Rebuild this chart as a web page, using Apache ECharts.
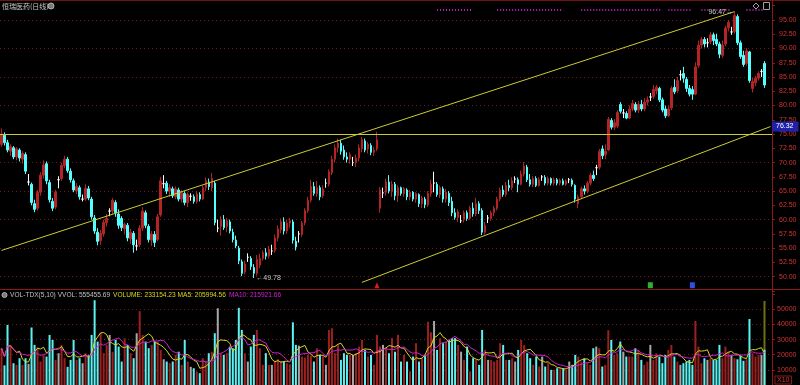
<!DOCTYPE html>
<html><head><meta charset="utf-8">
<script src="https://cdn.jsdelivr.net/npm/echarts@6/dist/echarts.min.js"></script>
<style>html,body{margin:0;padding:0;background:#000;}#c{width:800px;height:385px;}</style>
</head><body><div id="c"></div>
<script>
// ---------------- data ----------------
const CAT_COUNT = 257;                 // trading-day slots on the x axis (2 empty slots at right)
const categories = [];
for (let i = 0; i < CAT_COUNT; i++) categories.push(String(i));

// daily candles: [open, close, low, high]
const candles = [
[73.2,75.0,72.8,76.0],[74.8,73.5,73.0,75.3],[73.5,72.2,71.8,74.0],[72.0,72.8,71.2,73.2],[72.6,71.0,70.6,72.9],
[71.0,72.4,70.4,72.7],[72.2,70.8,70.2,72.5],[70.6,71.6,69.8,72.0],[71.4,68.5,68.0,71.8],[66.6,66.6,66.0,68.0],
[66.2,63.0,62.5,66.5],[62.8,61.8,61.3,63.5],[62.0,64.8,61.6,65.2],[64.8,67.8,64.2,68.3],[67.8,69.6,67.2,70.4],
[69.8,66.8,66.2,70.2],[66.5,63.5,63.0,67.0],[63.2,62.0,61.5,63.8],[62.2,64.8,61.8,65.2],[67.0,67.0,65.5,67.6],
[67.2,69.5,66.8,70.0],[69.5,70.6,69.0,71.2],[70.6,68.6,68.2,71.0],[68.5,67.0,66.5,69.0],[66.8,65.2,64.8,67.2],
[65.0,65.8,64.5,66.4],[65.6,64.0,63.5,66.0],[63.6,63.6,63.2,64.4],[63.6,65.5,63.3,66.2],[65.4,63.8,63.4,65.9],
[63.6,60.5,60.0,64.0],[60.3,58.0,57.5,60.8],[57.8,56.2,55.5,58.5],[56.3,57.6,55.6,58.2],[57.5,59.5,57.0,60.0],
[59.5,60.2,58.8,61.0],[61.5,61.5,60.6,62.0],[61.5,63.4,61.0,63.8],[63.0,61.2,60.5,63.4],[61.0,59.0,58.4,61.8],
[60.2,58.6,58.0,60.6],[58.4,59.2,57.4,59.5],[59.0,56.8,56.2,59.4],[56.6,57.8,55.8,58.4],[57.6,55.6,54.2,58.0],
[55.4,55.4,54.6,56.5],[55.6,58.5,55.2,59.0],[58.5,61.5,58.0,62.2],[61.2,59.0,58.5,61.6],[58.8,56.5,56.0,59.2],
[56.4,57.5,55.4,58.0],[57.4,56.0,55.2,58.0],[56.5,60.5,56.2,61.0],[60.8,66.8,60.5,67.5],[66.3,66.3,65.5,67.8],
[66.4,65.0,64.5,66.8],[65.0,65.6,64.0,66.2],[65.4,64.2,63.8,65.8],[64.0,65.4,63.6,65.8],[65.2,63.6,63.2,65.6],
[63.6,64.8,63.0,65.2],[64.6,63.0,62.5,65.0],[63.0,64.4,62.2,64.8],[64.1,64.1,63.3,64.6],[64.0,63.2,62.8,64.4],
[63.2,64.5,62.8,65.0],[64.4,63.6,63.2,64.8],[63.6,65.6,63.4,66.0],[65.6,66.8,65.0,67.4],[66.6,65.8,65.2,67.2],
[65.6,67.2,65.0,68.2],[66.4,59.5,59.0,66.8],[58.5,58.5,57.8,60.0],[58.8,60.0,57.2,60.6],[60.0,58.6,58.2,60.8],
[58.8,59.8,57.8,60.3],[59.6,58.0,57.6,60.0],[57.8,56.5,56.0,58.4],[56.4,55.4,55.0,57.2],[55.0,52.8,52.2,55.4],
[52.6,50.6,50.1,53.0],[50.8,52.2,50.4,52.8],[53.4,53.4,52.6,54.1],[53.2,51.8,51.2,53.6],[51.6,50.6,49.78,52.2],
[50.6,53.0,50.2,53.8],[52.0,53.2,51.5,54.0],[53.2,54.2,52.8,54.6],[54.2,53.6,53.0,55.0],[53.6,54.8,53.2,55.4],
[54.5,54.5,53.8,55.6],[54.6,56.8,54.2,57.4],[56.8,58.4,56.2,59.0],[58.2,59.6,57.6,60.2],[59.6,58.0,57.4,60.4],
[58.0,59.4,57.5,60.0],[59.4,59.8,58.6,60.3],[59.6,56.4,55.8,60.0],[56.2,55.2,54.6,57.0],[57.5,57.5,56.0,58.0],
[57.4,59.4,57.0,59.8],[59.4,61.6,59.0,62.0],[61.6,63.4,61.2,64.0],[63.4,65.8,63.0,67.0],[65.8,64.6,64.2,66.6],
[64.6,65.6,64.0,66.8],[65.6,64.0,63.4,66.0],[64.2,65.4,63.8,66.0],[66.4,66.4,65.6,67.2],[66.2,68.4,65.8,68.8],
[68.2,70.6,67.8,71.2],[70.6,72.6,70.0,73.2],[72.6,73.4,71.8,74.2],[73.4,72.0,71.4,74.0],[72.2,71.0,70.5,73.0],
[71.0,70.6,70.0,71.8],[70.6,71.4,69.8,71.8],[70.0,70.0,69.4,71.0],[70.0,70.8,69.2,71.4],[70.8,72.6,70.2,73.2],
[72.4,74.0,71.8,74.5],[73.8,72.2,71.8,74.2],[72.4,73.2,71.6,73.6],[73.0,71.8,71.3,73.4],[71.8,72.2,71.2,72.8],
[72.4,74.0,72.0,75.4],[62.0,65.2,61.2,65.7],[64.7,64.7,63.8,65.6],[64.8,66.6,64.2,67.2],[66.6,65.0,64.6,67.8],
[65.0,66.2,64.0,66.8],[66.2,64.2,63.4,66.6],[64.2,65.6,63.1,66.0],[65.6,64.6,64.2,65.8],[64.6,65.4,64.0,65.7],
[65.2,64.0,63.4,65.5],[64.0,64.8,63.4,65.2],[64.8,63.6,63.2,65.0],[63.6,64.6,63.0,64.8],[64.4,62.8,62.2,64.6],
[62.8,63.8,62.0,64.2],[63.6,62.6,62.0,64.0],[62.6,64.6,62.2,65.0],[64.6,66.2,64.0,67.0],[66.4,66.4,64.8,68.4],
[66.2,64.4,64.0,66.6],[64.4,65.6,63.8,66.0],[65.4,63.6,63.0,65.8],[63.6,64.8,63.0,65.4],[64.6,63.0,62.4,65.0],
[63.2,61.2,60.6,64.0],[61.2,60.4,60.0,62.0],[60.4,61.4,59.6,61.8],[59.8,59.8,59.4,60.8],[60.0,61.2,59.5,61.6],
[61.2,60.2,59.8,61.6],[60.2,62.0,60.0,62.4],[62.0,61.0,60.5,63.0],[61.0,62.8,60.6,63.8],[62.8,61.6,61.0,63.2],
[61.6,57.8,57.3,62.0],[57.8,59.0,57.4,59.6],[60.3,60.3,59.4,60.8],[60.2,61.2,59.8,61.6],[61.2,62.0,60.6,62.4],
[62.0,63.6,61.6,64.0],[63.6,65.2,63.2,65.6],[65.2,64.4,64.0,66.0],[64.4,66.0,64.0,66.6],[66.0,65.6,65.0,67.0],
[65.6,66.8,65.2,67.4],[67.1,67.1,66.4,67.6],[67.0,66.2,64.8,67.4],[66.2,68.0,66.0,68.6],[68.0,69.4,67.6,70.1],
[69.2,67.0,66.6,69.6],[67.0,66.2,65.8,68.0],[66.2,67.2,65.7,67.6],[67.2,66.0,65.7,67.6],[66.0,67.0,65.8,67.4],
[67.5,67.5,66.8,67.8],[67.4,66.4,66.0,67.8],[66.4,67.2,66.0,67.6],[67.2,66.4,66.0,67.4],[66.4,67.0,66.0,67.4],
[67.0,66.4,66.0,67.3],[66.4,66.9,66.0,67.2],[66.8,66.2,66.0,67.2],[66.2,66.8,65.9,67.1],[67.0,67.0,66.4,67.3],
[66.9,66.2,65.8,67.2],[66.0,63.6,63.0,66.2],[62.8,64.0,62.0,64.4],[64.0,65.4,63.6,65.8],[65.4,65.0,64.4,66.0],
[65.0,66.4,64.6,66.8],[66.4,67.8,66.0,68.2],[67.8,67.2,66.8,68.6],[69.1,69.1,67.8,69.6],[69.2,72.0,68.8,72.4],
[72.4,71.2,70.6,73.0],[71.4,72.0,70.6,73.2],[72.2,77.6,72.0,78.0],[77.4,76.2,75.8,77.8],[76.2,77.0,75.7,77.6],
[76.4,78.8,76.0,79.2],[80.2,79.0,78.6,80.6],[78.7,78.7,77.8,79.4],[78.6,77.8,77.6,79.0],[77.8,79.4,77.6,80.0],
[79.4,80.4,79.0,81.0],[80.2,79.2,78.8,80.6],[79.2,80.2,78.7,80.8],[80.2,79.4,79.0,81.0],[79.4,80.6,79.0,81.3],
[80.6,81.0,80.0,81.6],[81.5,81.5,80.8,82.2],[81.6,82.8,81.2,83.6],[82.6,83.2,82.0,83.6],[83.0,81.0,80.6,83.3],
[81.0,79.2,78.8,81.4],[79.4,78.2,77.8,80.0],[78.2,79.4,78.0,80.0],[79.6,83.0,79.2,83.4],[83.2,82.4,82.0,84.6],
[82.6,84.4,82.2,85.0],[85.4,85.4,84.4,86.2],[85.6,84.8,84.0,86.8],[84.6,83.0,82.4,85.0],[83.0,82.0,81.6,83.6],
[82.8,82.0,81.0,83.4],[82.0,86.8,81.8,87.6],[87.0,90.6,86.6,91.4],[90.6,91.6,90.0,92.0],[91.6,90.8,90.2,92.0],
[91.0,91.0,90.2,91.8],[91.2,92.4,90.8,92.9],[92.4,91.4,90.6,92.8],[91.6,90.8,90.4,92.6],[90.8,89.0,88.3,91.2],
[88.8,90.6,88.4,91.4],[90.8,93.6,90.4,94.0],[93.6,94.6,93.0,95.0],[92.9,92.9,92.4,93.8],[93.0,95.8,92.6,96.47],
[95.6,91.0,90.6,96.0],[91.0,88.6,88.2,91.4],[88.8,87.2,86.8,89.6],[87.4,89.6,87.0,90.1],[89.4,84.4,84.0,89.6],
[83.0,84.2,82.3,84.8],[84.0,84.8,83.4,85.2],[84.8,85.6,84.4,86.0],[86.0,86.0,85.0,86.4],[87.4,83.6,83.1,87.8]
];

// daily volume (axis units, x10 lots)
const volumes = [
24300,13000,39700,26500,14400,13300,17700,13300,17700,14000,
38000,26500,25000,15500,19900,18800,33100,29800,16600,21000,
26500,17700,12000,16600,29800,16600,17700,14400,21000,19900,
33100,56000,28700,34500,21000,26500,33100,22000,29800,25400,
15500,30900,26500,21000,17700,34200,48800,33100,28700,24300,
26500,28700,28700,23200,17000,15500,14400,15500,19900,22000,
13300,29800,15500,12000,11100,8900,7800,17700,15500,21000,
22000,34200,50700,21000,19900,21000,25400,24300,29800,51000,
36400,21000,15500,25400,33100,36400,24300,13300,21000,13300,
13300,16000,17000,15800,15500,14400,13600,41400,26500,26000,
18800,18200,19900,19300,15500,24300,19900,18800,13300,36400,
37500,21000,26500,16600,21000,20000,19900,19900,21000,25400,
29800,23200,18800,19900,13300,33100,25400,26500,24300,21000,
31000,22000,33100,15500,19900,15500,9000,18800,27600,15500,
17700,19900,41800,34800,42300,23200,30900,27600,28700,29800,
31000,31000,26500,22000,16600,25400,9000,17700,16600,13300,
36400,23200,16600,16600,15500,16600,27600,26500,16600,16600,
17700,15500,23200,29800,26500,21000,17700,13300,18800,12200,
18800,12200,14400,10000,10000,11100,11100,11100,10000,15500,
13300,19900,18800,15500,17700,14400,13300,24300,25400,24300,
12200,13300,36200,29800,19900,21000,28700,22000,18800,18800,
18800,24300,23200,16600,13300,15500,26500,16600,21000,18800,
14400,19900,23200,26500,18800,15500,13300,14400,15500,16600,
13300,42300,25400,14400,17700,16600,17700,16600,16600,26500,
17700,25400,22000,19900,17700,17000,19400,16000,17000,43600,
21000,18800,19900,19900,23315.4
];
const virtualVolume = 55545.6;      // VVOL of the last day (x10)

// reference lines / annotations
const priceGridValues = [50, 55, 60, 65, 70, 80, 85, 90, 95];
const volGridValues = [10000, 20000, 30000, 40000, 50000];
const horizontalLevel = 75.0;
const upperChannel = [[0, 54.6], [244, 96.47]];
const lowerChannel = [[120, 49.0], [256, 76.32]];
const channelNow = 76.32;
const lowPoint = [84, 49.78];
const highPoint = [244, 96.47];
const signalRuns = [[145,157],[165,187],[193,220],[222,230],[233,236],[238,243],[248,254]];
const signalLevel = 96.8;
const bottomMarks = [[125, '#d02020', 'triangle'], [216, '#30b030', 'rect'], [230, '#3050e0', 'rect']];
const bottomMarkLevel = 48.5;

const headerTexts = {
  vol: 'VOL-TDX(5,10) VVOL: 555455.69',
  volume: 'VOLUME: 233154.23 MA5: 205994.56',
  ma10: 'MA10: 215921.66'
};

// ---------------- styles ----------------
const UP = '#b42424', DOWN = '#54ffff', DOJI = '#ffffff';
const VUP = '#9c2020', VDOWN = '#5cf2f2', VFLAT = '#a8a8a8';
const AXIS_RED = '#8b1a1a', LABEL_RED = '#d23434', GRID_RED = '#7a1616';
const YEL = '#cccc33';

const candleData = candles.map(r => r[0] === r[1]
  ? { value: r, itemStyle: { color: DOJI, color0: DOJI, borderColor: DOJI, borderColor0: DOJI } }
  : r);
const volData = volumes.map((v, i) => {
  const c = candles[i];
  const col = c[1] > c[0] ? VUP : (c[1] < c[0] ? VDOWN : VFLAT);
  return { value: v, itemStyle: { color: col } };
});
function ma(n) {
  return volumes.map((v, i) => {
    const s = Math.max(0, i - n + 1);
    let sum = 0;
    for (let k = s; k <= i; k++) sum += volumes[k];
    return +(sum / (i - s + 1)).toFixed(1);
  });
}
const vvolData = volumes.map((v, i) => i === volumes.length - 1 ? virtualVolume : '-');

const dotted = { type: [1, 3], color: GRID_RED, width: 1 };

const chart = echarts.init(document.getElementById('c'), null, { renderer: 'canvas' });
chart.setOption({
  backgroundColor: '#000',
  animation: false,
  grid: [
    { left: 0, right: 28, top: 5.74, height: 285.2 },
    { left: 0, right: 28, top: 294.2, height: 91 }
  ],
  xAxis: [
    { type: 'category', gridIndex: 0, data: categories, boundaryGap: true,
      axisLine: { show: false }, axisTick: { show: false }, axisLabel: { show: false }, splitLine: { show: false } },
    { type: 'category', gridIndex: 1, data: categories, boundaryGap: true,
      axisLine: { show: false }, axisTick: { show: false }, axisLabel: { show: false }, splitLine: { show: false } }
  ],
  yAxis: [
    { type: 'value', gridIndex: 0, position: 'right', min: 47.5, max: 97.5, interval: 2.5,
      axisLine: { show: true, lineStyle: { color: AXIS_RED } },
      axisTick: { show: true, length: 3, lineStyle: { color: AXIS_RED } },
      axisLabel: { color: LABEL_RED, fontSize: 7, fontFamily: 'Liberation Sans', margin: 7,
        formatter: v => (v >= 50 && v <= 95) ? v.toFixed(2) : '' },
      splitLine: { show: false } },
    { type: 'value', gridIndex: 1, position: 'right', min: 0, max: 60000, interval: 10000,
      axisLine: { show: true, lineStyle: { color: AXIS_RED } },
      axisTick: { show: true, length: 3, lineStyle: { color: AXIS_RED } },
      axisLabel: { color: LABEL_RED, fontSize: 7, fontFamily: 'Liberation Sans', margin: 5,
        formatter: v => (v >= 10000 && v <= 50000) ? String(v) : '' },
      splitLine: { show: false } }
  ],
  series: [
    { // price grid lines
      type: 'line', xAxisIndex: 0, yAxisIndex: 0, data: [], silent: true,
      markLine: { silent: true, symbol: ['none', 'none'], z: 1, label: { show: false },
        lineStyle: dotted, data: priceGridValues.map(v => ({ yAxis: v })) }
    },
    { // volume grid lines
      type: 'line', xAxisIndex: 1, yAxisIndex: 1, data: [], silent: true,
      markLine: { silent: true, symbol: ['none', 'none'], z: 1, label: { show: false },
        lineStyle: dotted, data: volGridValues.map(v => ({ yAxis: v })) }
    },
    {
      type: 'candlestick', name: 'K', xAxisIndex: 0, yAxisIndex: 0, barWidth: 2,
      data: candleData,
      itemStyle: { color: UP, color0: DOWN, borderColor: UP, borderColor0: DOWN, borderWidth: 1 },
      markLine: {
        silent: true, symbol: ['none', 'none'], label: { show: false },
        lineStyle: { color: YEL, width: 1, type: 'solid' },
        data: [
          { yAxis: horizontalLevel },
          [{ coord: upperChannel[0] }, { coord: upperChannel[1] }],
          [{ coord: lowerChannel[0] }, { coord: lowerChannel[1] }],
          { yAxis: channelNow, lineStyle: { color: 'rgba(0,0,0,0)' },
            label: { show: true, position: 'end', distance: 0, formatter: channelNow.toFixed(2),
              backgroundColor: '#2020a8', color: '#ffffff', fontSize: 7, fontFamily: 'Liberation Sans',
              padding: [2, 5, 1, 4] } }
        ]
      },
      markPoint: {
        silent: true, symbol: 'circle', symbolSize: 1, itemStyle: { color: 'rgba(0,0,0,0)' },
        data: [
          { coord: lowPoint, label: { show: true, position: 'right', distance: 2, formatter: '←' + lowPoint[1].toFixed(2),
              color: '#c8c8c8', fontSize: 7, fontFamily: 'Liberation Sans' } },
          { coord: highPoint, label: { show: true, position: 'left', distance: 1, formatter: highPoint[1].toFixed(2) + '→',
              color: '#c8c8c8', fontSize: 7, fontFamily: 'Liberation Sans' } }
        ].concat(bottomMarks.map(m => ({ coord: [m[0], bottomMarkLevel], symbol: m[2], symbolSize: [5, 6],
              itemStyle: { color: m[1] }, label: { show: false } })))
      }
    },
    { // signal dots at the top
      type: 'line', xAxisIndex: 0, yAxisIndex: 0, data: [], silent: true,
      markLine: { silent: true, symbol: ['none', 'none'], label: { show: false },
        lineStyle: { color: '#c020c0', width: 2, type: [1, 2] },
        data: signalRuns.map(r => [{ coord: [r[0], signalLevel] }, { coord: [r[1], signalLevel] }]) }
    },
    {
      type: 'bar', name: 'VVOL', xAxisIndex: 1, yAxisIndex: 1, barWidth: 2, data: vvolData,
      itemStyle: { color: '#6e6e14' }, z: 1
    },
    {
      type: 'bar', name: 'VOL', xAxisIndex: 1, yAxisIndex: 1, barWidth: 2, barGap: '-100%', data: volData, z: 2
    },
    {
      type: 'line', name: 'MA5', xAxisIndex: 1, yAxisIndex: 1, data: ma(5), symbol: 'none', z: 3,
      lineStyle: { color: '#d8d820', width: 1 }
    },
    {
      type: 'line', name: 'MA10', xAxisIndex: 1, yAxisIndex: 1, data: ma(10), symbol: 'none', z: 3,
      lineStyle: { color: '#d020d0', width: 1 }
    }
  ],
  graphic: [
    { type: 'line', silent: true, shape: { x1: 0, y1: 0.5, x2: 800, y2: 0.5 }, style: { stroke: '#6e1212', lineWidth: 1 } },
    { type: 'line', silent: true, shape: { x1: 0, y1: 289.5, x2: 800, y2: 289.5 }, style: { stroke: AXIS_RED, lineWidth: 1 } },
    { type: 'line', silent: true, shape: { x1: 772.5, y1: 0, x2: 772.5, y2: 385 }, style: { stroke: AXIS_RED, lineWidth: 1 } },
    { type: 'text', silent: true, x: 2, y: 6, style: { text: '恒瑞医药(日线)', fill: '#c8c8c8', fontSize: 7,
        fontFamily: 'Noto Sans CJK SC', verticalAlign: 'middle' } },
    { type: 'circle', silent: true, shape: { cx: 51, cy: 6, r: 3 }, style: { fill: '#7a7a7a', stroke: '#b0b0b0', lineWidth: 1 } },
    { type: 'polygon', silent: true, shape: { points: [[756, 3], [759, 6], [756, 9], [753, 6]] }, style: { fill: 'none', stroke: '#a0a0a0', lineWidth: 1 } },
    { type: 'rect', silent: true, shape: { x: 763.5, y: 2.5, width: 6, height: 7 }, style: { fill: 'none', stroke: '#a0a0a0', lineWidth: 1 } },
    { type: 'circle', silent: true, shape: { cx: 4.5, cy: 295, r: 2.5 }, style: { fill: '#7a7a7a', stroke: '#b0b0b0', lineWidth: 1 } },
    { type: 'text', silent: true, x: 10, y: 295, style: { text: headerTexts.vol, fill: '#c0c0c0', fontSize: 6.6,
        fontFamily: 'Liberation Sans', verticalAlign: 'middle' } },
    { type: 'text', silent: true, x: 113, y: 295, style: { text: headerTexts.volume, fill: '#d8d820', fontSize: 6.6,
        fontFamily: 'Liberation Sans', verticalAlign: 'middle' } },
    { type: 'text', silent: true, x: 229, y: 295, style: { text: headerTexts.ma10, fill: '#d020d0', fontSize: 6.6,
        fontFamily: 'Liberation Sans', verticalAlign: 'middle' } },
    { type: 'text', silent: true, x: 775, y: 380, style: { text: 'X10', fill: LABEL_RED, fontSize: 7,
        fontFamily: 'Liberation Sans', verticalAlign: 'middle', borderColor: AXIS_RED, borderWidth: 1, padding: [1, 2, 0, 2] } }
  ]
});
</script></body></html>
